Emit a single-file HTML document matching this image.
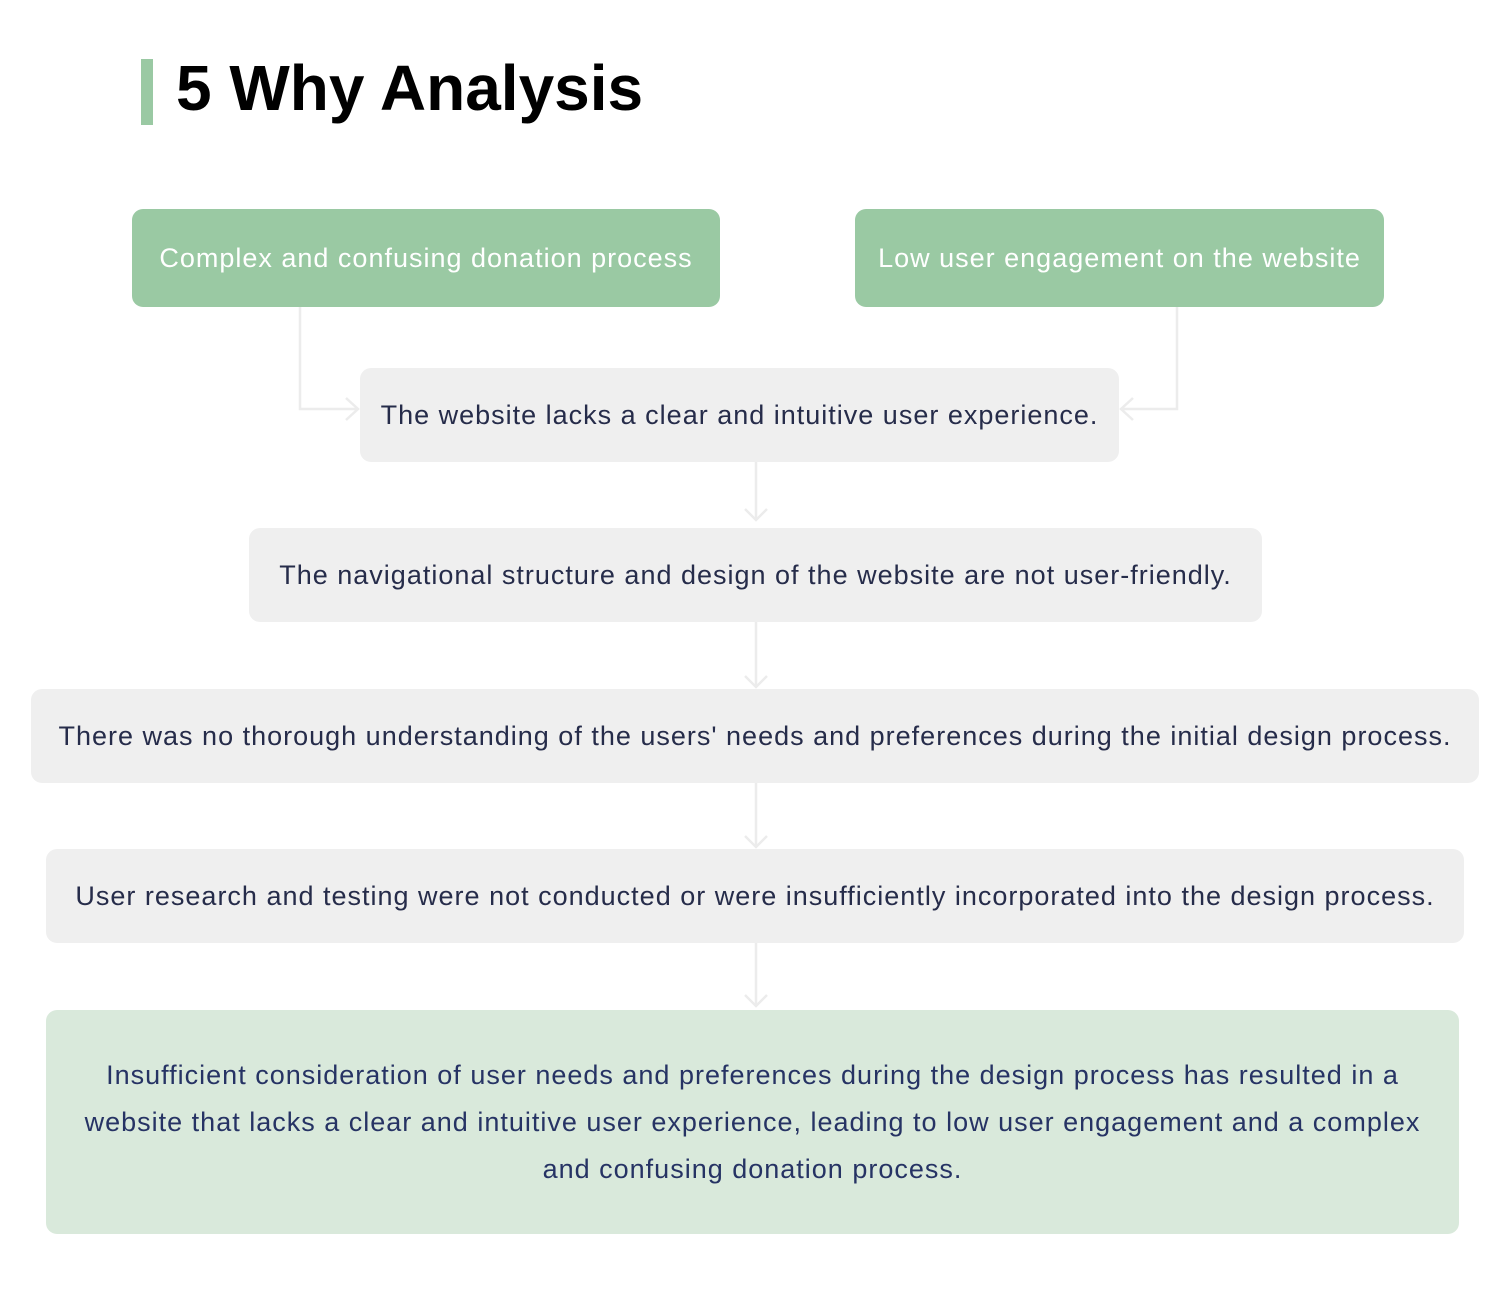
<!DOCTYPE html>
<html><head><meta charset="utf-8"><style>
html,body{margin:0;padding:0;background:#fff;}
body{width:1511px;height:1293px;position:relative;overflow:hidden;font-family:"Liberation Sans",sans-serif;}
.b{position:absolute;display:flex;align-items:center;justify-content:center;text-align:center;border-radius:11px;box-sizing:border-box;font-size:27px;color:#262c4a;background:#efefef;white-space:nowrap;letter-spacing:1px;}
.g{background:#9ac9a3;color:#fff;}
.f{background:#d9e9db;color:#263364;line-height:47px;}
svg{position:absolute;left:0;top:0;}
</style></head><body>
<div style="position:absolute;left:141px;top:59px;width:12px;height:66px;background:#9ac9a3"></div>
<div style="position:absolute;left:176px;top:48px;font-size:64px;font-weight:bold;color:#000;line-height:80px;">5 Why Analysis</div>
<svg width="1511" height="1293" fill="none" stroke="#ececec" stroke-width="2.5">
<path d="M300 307V409H358M346 398L358 409L346 420"/>
<path d="M1177 307V409H1121M1133 398L1121 409L1133 420"/>
<path d="M756 462V520M745 509L756 520L767 509"/>
<path d="M756 622V687M745 676L756 687L767 676"/>
<path d="M756 783V847M745 836L756 847L767 836"/>
<path d="M756 943V1006M745 995L756 1006L767 995"/>
</svg>
<div class="b g" style="left:132px;top:209px;width:588px;height:98px;">Complex and confusing donation process</div>
<div class="b g" style="left:855px;top:209px;width:529px;height:98px;">Low user engagement on the website</div>
<div class="b" style="left:360px;top:368px;width:759px;height:94px;">The website lacks a clear and intuitive user experience.</div>
<div class="b" style="left:249px;top:528px;width:1013px;height:94px;">The navigational structure and design of the website are not user-friendly.</div>
<div class="b" style="left:31px;top:689px;width:1448px;height:94px;">There was no thorough understanding of the users' needs and preferences during the initial design process.</div>
<div class="b" style="left:46px;top:849px;width:1418px;height:94px;">User research and testing were not conducted or were insufficiently incorporated into the design process.</div>
<div class="b f" style="left:46px;top:1010px;width:1413px;height:224px;">Insufficient consideration of user needs and preferences during the design process has resulted in a<br>website that lacks a clear and intuitive user experience, leading to low user engagement and a complex<br>and confusing donation process.</div>
</body></html>
